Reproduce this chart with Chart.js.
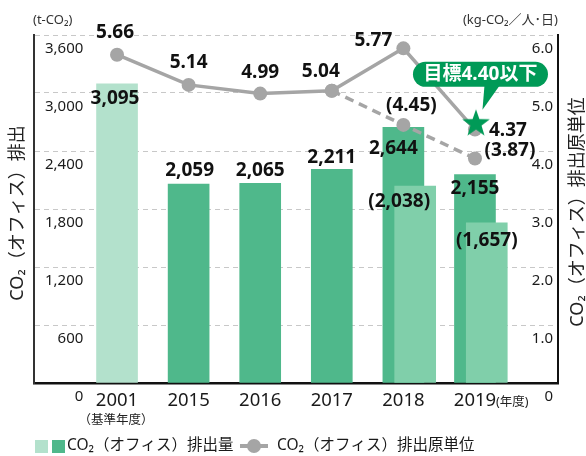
<!DOCTYPE html>
<html lang="ja">
<head>
<meta charset="utf-8">
<script src="https://cdn.jsdelivr.net/npm/chart.js@4.4.1/dist/chart.umd.min.js"></script>
<style>
  html, body { margin: 0; padding: 0; background: #fff; }
  #wrap { width: 586px; height: 456px; }
</style>
</head>
<body>
<div id="wrap"><canvas id="chart" width="586" height="456"></canvas></div>
<script>
const years = ["2001", "2015", "2016", "2017", "2018", "2019"];
const emissions = [3095, 2059, 2065, 2211, 2644, 2155];
const emissionsAdjusted = [null, null, null, null, 2038, 1657];
const intensity = [5.66, 5.14, 4.99, 5.04, 5.77, 4.37];
const intensityAdjusted = [null, null, null, 5.04, 4.45, 3.87];
const target = [null, null, null, null, null, 4.40];
const leftTicks = [0, 600, 1200, 1800, 2400, 3000, 3600];
const rightTicks = [0, 1, 2, 3, 4, 5, 6];

const LIGHT = "#b3e1cc";
const DARK = "#4fb88b";
const MID = "#80cfaa";
const GRAY = "#a5a5a5";
const GREEN = "#009a57";
const FONT = '"Noto Sans", "Noto Sans CJK JP", sans-serif';

Chart.defaults.font.family = FONT;
Chart.defaults.color = "#1a1a1a";

// label offsets (px) from the mark to the label centre
const barLabelOffsets = [[-2, 15], [1, -13], [0, -13], [0, -12], [-10, 21], [0, 14]];
const adjBarLabelOffsets = [null, null, null, null, [-16, 16], [0, 18]];
const lineLabelOffsets = [[-2, -22], [0, -22], [0, -21], [-11, -19], [-30, -8], [33, 1]];
const adjLineLabelOffsets = [null, null, null, null, [8, -19], [35, -8]];

const xMin = -1.16;
const xMax = 6.16;
const shift = 0.165;

function toPoints(arr) {
  return arr.map((v, i) => ({ x: i, y: v }));
}

function makeStar(r, color) {
  const c = document.createElement("canvas");
  c.width = 40;
  c.height = 40;
  const g = c.getContext("2d");
  g.fillStyle = color;
  g.beginPath();
  for (let k = 0; k < 10; k++) {
    const rad = k % 2 === 0 ? r : r * 0.4;
    const a = -Math.PI / 2 + (k * Math.PI) / 5;
    const px = 21 + rad * Math.cos(a);
    const py = 16 + rad * Math.sin(a);
    if (k === 0) g.moveTo(px, py);
    else g.lineTo(px, py);
  }
  g.closePath();
  g.fill();
  return c;
}

function drawText(ctx, text, x, y, font, color, align) {
  ctx.font = font;
  ctx.fillStyle = color;
  ctx.textAlign = align || "center";
  ctx.textBaseline = "middle";
  ctx.fillText(text, x, y);
}

const labelsPlugin = {
  id: "labels",
  afterDatasetsDraw(chart) {
    const ctx = chart.ctx;
    const bold = "bold 19px " + FONT;
    ctx.save();

    chart.getDatasetMeta(0).data.forEach((el, i) => {
      const o = barLabelOffsets[i];
      drawText(ctx, emissions[i].toLocaleString("en-US"), el.x + o[0], el.y + o[1], bold, "#111");
    });
    chart.getDatasetMeta(1).data.forEach((el, i) => {
      if (emissionsAdjusted[i] === null) return;
      const o = adjBarLabelOffsets[i];
      drawText(ctx, "(" + emissionsAdjusted[i].toLocaleString("en-US") + ")", el.x + o[0], el.y + o[1], bold, "#111");
    });
    chart.getDatasetMeta(2).data.forEach((el, i) => {
      const o = lineLabelOffsets[i];
      drawText(ctx, intensity[i].toFixed(2), el.x + o[0], el.y + o[1], bold, "#111");
    });
    chart.getDatasetMeta(3).data.forEach((el, i) => {
      const o = adjLineLabelOffsets[i];
      if (!o) return;
      drawText(ctx, "(" + intensityAdjusted[i].toFixed(2) + ")", el.x + o[0], el.y + o[1], bold, "#111");
    });

    // target callout
    const star = chart.getDatasetMeta(4).data[5];
    const px = star.x;
    const py = star.y;
    ctx.fillStyle = GREEN;
    ctx.beginPath();
    ctx.roundRect(px - 62, py - 66, 135, 25, 12.5);
    ctx.fill();
    ctx.beginPath();
    ctx.moveTo(px + 9.5, py - 42);
    ctx.lineTo(px + 24.5, py - 42);
    ctx.lineTo(px + 7.5, py - 18);
    ctx.closePath();
    ctx.fill();
    drawText(ctx, "目標" + target[5].toFixed(2) + "以下", px + 5.5, py - 53, bold, "#fff");
    ctx.restore();
  },
  afterDraw(chart) {
    const ctx = chart.ctx;
    const area = chart.chartArea;
    ctx.save();
    // units
    drawText(ctx, "(t-CO₂)", area.left - 1, 20, "13px " + FONT, "#333", "left");
    drawText(ctx, "(kg-CO₂／人･日)", area.right, 20, "13px " + FONT, "#333", "right");

    // axis titles
    ctx.translate(18, 213);
    ctx.rotate(-Math.PI / 2);
    drawText(ctx, "CO₂（オフィス）排出", 0, 0, "18px " + FONT, "#222");
    ctx.setTransform(1, 0, 0, 1, 0, 0);
    ctx.translate(578, 212);
    ctx.rotate(-Math.PI / 2);
    drawText(ctx, "CO₂（オフィス）排出原単位", 0, 0, "18px " + FONT, "#222");
    ctx.setTransform(1, 0, 0, 1, 0, 0);

    // x sub labels
    const xs = chart.scales.x;
    drawText(ctx, "（基準年度）", xs.getPixelForValue(0) - 1, 420, "12.5px " + FONT, "#222");
    drawText(ctx, "(年度)", xs.getPixelForValue(5) + 21, 402, "12.5px " + FONT, "#222", "left");

    // legend
    const ly = 446;
    ctx.fillStyle = LIGHT;
    ctx.fillRect(35, ly - 6, 13, 13);
    ctx.fillStyle = DARK;
    ctx.fillRect(52, ly - 6, 13, 13);
    drawText(ctx, "CO₂（オフィス）排出量", 67, ly, "15.5px " + FONT, "#1a1a1a", "left");
    ctx.strokeStyle = GRAY;
    ctx.lineWidth = 4;
    ctx.beginPath();
    ctx.moveTo(240, ly);
    ctx.lineTo(268, ly);
    ctx.stroke();
    ctx.fillStyle = GRAY;
    ctx.beginPath();
    ctx.arc(254, ly, 7, 0, Math.PI * 2);
    ctx.fill();
    drawText(ctx, "CO₂（オフィス）排出原単位", 277, ly, "15.5px " + FONT, "#1a1a1a", "left");
    ctx.restore();
  },
};

const ctx = document.getElementById("chart");

new Chart(ctx, {
  data: {
    datasets: [
      {
        type: "bar",
        label: "CO₂（オフィス）排出量",
        data: toPoints(emissions),
        backgroundColor: emissions.map((v, i) => (i === 0 ? LIGHT : DARK)),
        xAxisID: "x",
        yAxisID: "y",
        barThickness: 41,
        grouped: false,
        order: 4,
      },
      {
        type: "bar",
        label: "CO₂（オフィス）排出量（補正）",
        data: toPoints(emissionsAdjusted),
        backgroundColor: MID,
        xAxisID: "x2",
        yAxisID: "y",
        barThickness: 41,
        grouped: false,
        order: 3,
      },
      {
        type: "line",
        label: "CO₂（オフィス）排出原単位",
        data: toPoints(intensity),
        borderColor: GRAY,
        backgroundColor: GRAY,
        borderWidth: 3.5,
        pointRadius: 7,
        pointBorderWidth: 0,
        pointBackgroundColor: GRAY,
        xAxisID: "x",
        yAxisID: "y1",
        order: 1,
      },
      {
        type: "line",
        label: "CO₂（オフィス）排出原単位（補正）",
        data: toPoints(intensityAdjusted),
        borderColor: GRAY,
        borderWidth: 3.5,
        borderDash: [9, 6],
        pointRadius: 7,
        pointBorderWidth: 0,
        pointBackgroundColor: GRAY,
        xAxisID: "x",
        yAxisID: "y1",
        order: 2,
      },
      {
        type: "line",
        label: "目標",
        data: toPoints(target),
        showLine: false,
        pointStyle: makeStar(14.5, GREEN),
        pointRadius: 14,
        xAxisID: "x",
        yAxisID: "y1",
        order: 0,
      },
    ],
  },
  options: {
    responsive: false,
    animation: false,
    layout: { padding: { left: 34, right: 28, top: 35, bottom: 0 } },
    plugins: {
      legend: { display: false },
      tooltip: { enabled: false },
    },
    scales: {
      x: {
        type: "linear",
        offset: false,
        min: xMin,
        max: xMax,
        grid: { display: false, drawTicks: false },
        border: { color: "#111", width: 2.5 },
        afterBuildTicks: (s) => {
          s.ticks = years.map((y, i) => ({ value: i }));
        },
        afterFit: (s) => {
          s.height = 73;
        },
        ticks: {
          callback: (v) => years[v],
          font: { size: 18.5 },
          color: "#1a1a1a",
          padding: 7,
          autoSkip: false,
          maxRotation: 0,
        },
      },
      x2: {
        type: "linear",
        offset: false,
        display: false,
        min: xMin - shift,
        max: xMax - shift,
      },
      y: {
        position: "left",
        min: 0,
        max: 3600,
        afterBuildTicks: (s) => {
          s.ticks = leftTicks.map((v) => ({ value: v }));
        },
        afterFit: (s) => {
          s.width = 0;
        },
        grid: { color: "#c8c8c8", lineWidth: 1, drawTicks: false },
        border: { color: "#333", width: 2, dash: [5, 4] },
        ticks: {
          mirror: true,
          crossAlign: "far",
          padding: 11,
          labelOffset: 14,
          font: { size: 15 },
          color: "#1a1a1a",
          callback: (v) => v.toLocaleString("en-US"),
        },
      },
      y1: {
        position: "right",
        min: 0,
        max: 6,
        afterBuildTicks: (s) => {
          s.ticks = rightTicks.map((v) => ({ value: v }));
        },
        afterFit: (s) => {
          s.width = 0;
        },
        grid: { drawOnChartArea: false, drawTicks: false },
        border: { color: "#111", width: 2 },
        ticks: {
          mirror: true,
          crossAlign: "near",
          padding: -5,
          labelOffset: 14,
          font: { size: 15 },
          color: "#1a1a1a",
          callback: (v) => (v === 0 ? "0" : v.toFixed(1)),
        },
      },
    },
  },
  plugins: [labelsPlugin],
});
</script>
</body>
</html>
